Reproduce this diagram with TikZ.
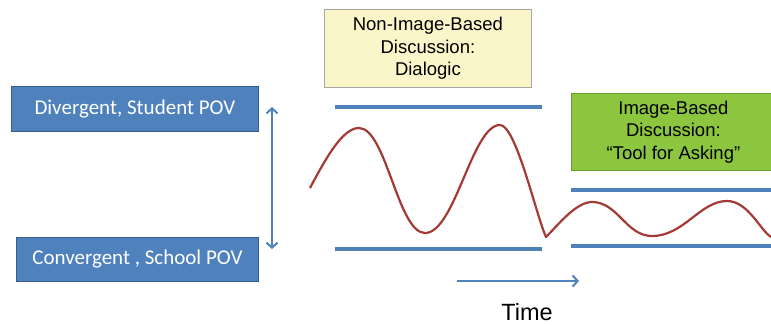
\documentclass[tikz,border=0pt]{standalone}
\usepackage{fontspec}
\setmainfont{Liberation Sans}
\newfontfamily\calibri{Carlito}
\usetikzlibrary{arrows.meta}
\definecolor{obl}{HTML}{4F81BD}
\definecolor{obldk}{HTML}{385D8A}
\definecolor{ylw}{HTML}{FAF6C9}
\definecolor{ylwbd}{HTML}{A6A6A6}
\definecolor{grn}{HTML}{8CC63F}
\definecolor{grnbd}{HTML}{6A9B2C}
\definecolor{wave}{HTML}{A33A36}
\tikzset{
  povbox/.style={draw=obldk, line width=0.8pt, fill=obl, text=white, font=\calibri\fontsize{21}{24}\selectfont, inner sep=0pt, anchor=north west},
  discbox/.style={line width=0.8pt, align=center, font=\fontsize{18.5}{22.5}\selectfont, inner sep=0pt, anchor=north west},
  level/.style={draw=obl, line width=3.2pt},
  barb/.style={draw=obl, line width=2pt},
}
\begin{document}
\begin{tikzpicture}[x=1pt,y=-1pt]
\useasboundingbox (0,0) rectangle (771,325);
% left boxes
\node[povbox, minimum width=247pt, minimum height=45pt] (div) at (11,86) {Divergent, Student POV};
\node[povbox, minimum width=242pt, minimum height=44pt] (conv) at (16,237) {Convergent , School POV};
% double arrow
\coordinate (atop) at (272,107);
\coordinate (abot) at (272,249);
\draw[barb, {Straight Barb[length=5pt,width=11pt]}-{Straight Barb[length=5pt,width=11pt]}] (atop) -- (abot);
% discussion boxes
\node[discbox, draw=ylwbd, fill=ylw, minimum width=207pt, minimum height=78pt] (nonimg) at (324,9) {Non-Image-Based\\Discussion:\\Dialogic};
\node[discbox, draw=grnbd, fill=grn, minimum width=204pt, minimum height=77pt] (img) at (571,93) {Image-Based\\Discussion:\\\textquotedblleft Tool for Asking\textquotedblright};
% level lines
\coordinate (l1a) at (335,107); \coordinate (l1b) at (542,107);
\coordinate (l2a) at (335,249); \coordinate (l2b) at (542,249);
\coordinate (r1a) at (571,190); \coordinate (r1b) at (771,190);
\coordinate (r2a) at (571,246); \coordinate (r2b) at (771,246);
\draw[level] (l1a) -- (l1b);
\draw[level] (l2a) -- (l2b);
\draw[level] (r1a) -- (r1b);
\draw[level] (r2a) -- (r2b);
% wave
\draw[wave, line width=2.2pt, line join=round]
  (310,188) .. controls (325,160) and (342,128) .. (359,128)
  .. controls (386,128) and (398,233) .. (425,233)
  .. controls (455,233) and (472,125) .. (500,125)
  .. controls (516,125) and (536,215) .. (546,237)
  .. controls (558,225) and (576,202) .. (592,202)
  .. controls (618,202) and (626,236) .. (652,236)
  .. controls (684,236) and (700,201) .. (727,201)
  .. controls (748,201) and (760,230) .. (771,237);
% time arrow
\coordinate (ta) at (457,281);
\coordinate (tb) at (579,281);
\draw[barb, -{Straight Barb[length=5pt,width=11pt]}] (ta) -- (tb);
\node[font=\fontsize{23.5}{27}\selectfont] (time) at (527,312) {Time};
\end{tikzpicture}
\end{document}
